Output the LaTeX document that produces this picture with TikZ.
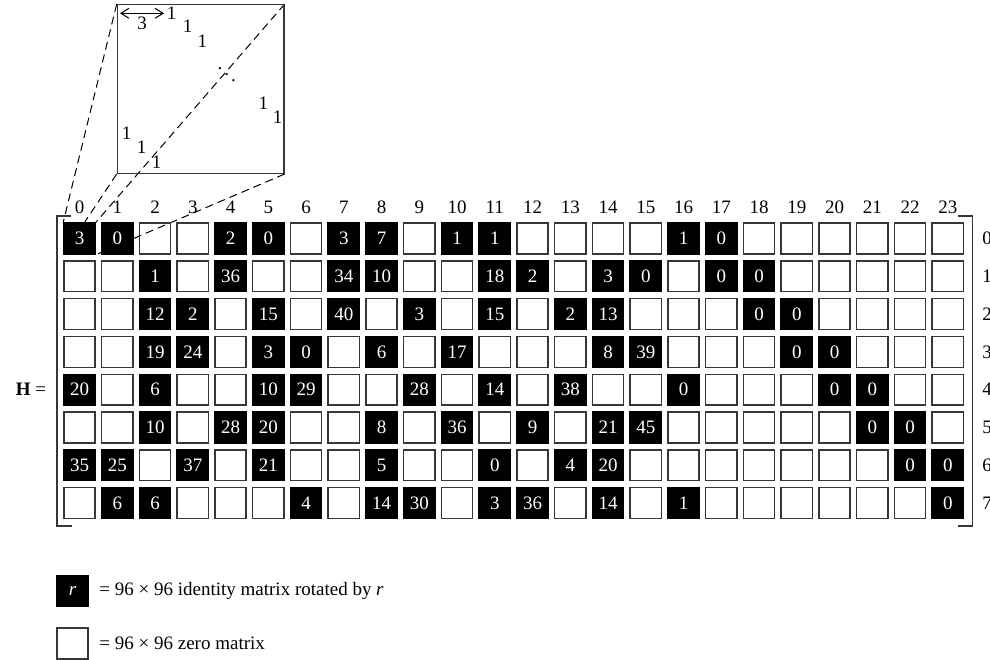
\documentclass[tikz,border=0pt]{standalone}
\usepackage{fontspec}
\setmainfont{Liberation Serif}
\usetikzlibrary{arrows.meta,backgrounds}
\definecolor{framegray}{RGB}{55,55,55}

\tikzset{
  zerocell/.style={draw=framegray, line width=0.7pt, minimum width=15.6pt, minimum height=15.4pt, inner sep=0pt},
  permcell/.style={zerocell, draw=black, fill=black, text=white},
  zoomline/.style={dash pattern=on 4pt off 2.5pt, line width=0.5pt},
  bracket/.style={draw=framegray, line width=0.7pt}
}

\begin{document}
\begin{tikzpicture}[x=0.5pt, y=-0.5pt, font=\fontsize{9.5}{11}\selectfont]

\useasboundingbox (0,0) rectangle (990,659);

% Zero blocks (8 x 24)
\foreach \r in {0,...,7} {
  \foreach \c in {0,...,23} {
    \node[zerocell] (z-\r-\c) at ({79.5+37.75*\c},{238.5+37.8*\r}) {};
  }
}

% Rotated identity blocks: row/column/shift
\foreach \r/\c/\s in {0/0/3, 0/1/0, 0/4/2, 0/5/0, 0/7/3, 0/8/7, 0/10/1, 0/11/1, 0/16/1, 0/17/0,
    1/2/1, 1/4/36, 1/7/34, 1/8/10, 1/11/18, 1/12/2, 1/14/3, 1/15/0, 1/17/0, 1/18/0,
    2/2/12, 2/3/2, 2/5/15, 2/7/40, 2/9/3, 2/11/15, 2/13/2, 2/14/13, 2/18/0, 2/19/0,
    3/2/19, 3/3/24, 3/5/3, 3/6/0, 3/8/6, 3/10/17, 3/14/8, 3/15/39, 3/19/0, 3/20/0,
    4/0/20, 4/2/6, 4/5/10, 4/6/29, 4/9/28, 4/11/14, 4/13/38, 4/16/0, 4/20/0, 4/21/0,
    5/2/10, 5/4/28, 5/5/20, 5/8/8, 5/10/36, 5/12/9, 5/14/21, 5/15/45, 5/21/0, 5/22/0,
    6/0/35, 6/1/25, 6/3/37, 6/5/21, 6/8/5, 6/11/0, 6/13/4, 6/14/20, 6/22/0, 6/23/0,
    7/1/6, 7/2/6, 7/6/4, 7/8/14, 7/9/30, 7/11/3, 7/12/36, 7/14/14, 7/16/1, 7/23/0} {
  \node[permcell] (p-\r-\c) at (z-\r-\c) {\s};
}

% Column and row indices
\foreach \c in {0,...,23} {
  \node (col-\c) at ({79.5+37.75*\c},207) {\c};
}
\foreach \r in {0,...,7} {
  \node (row-\r) at (987,{238.5+37.8*\r}) {\r};
}

% Brackets
\draw[bracket] (71,216) -- (57,216) -- (57,526) -- (72,526);
\draw[bracket] (958,216) -- (972.5,216) -- (972.5,526) -- (958,526);

% Matrix name
\node (hname) at (31,389.7) {\textbf{H} =};

% Zoomed block
\node[draw=framegray, line width=0.7pt, minimum width=83.3pt, minimum height=84.3pt, inner sep=0pt] (zoombox) at (200.7,89) {};
\begin{scope}[on background layer]
  \draw[zoomline] (zoombox.north west) -- (p-0-0.north west);
  \draw[zoomline] (zoombox.south west) -- (p-0-0.south west);
  \draw[zoomline] (zoombox.north east) -- (p-0-0.north east);
  \draw[zoomline] (zoombox.south east) -- (p-0-0.south east);
\end{scope}

% Shift inside the block
\coordinate (shiftl) at (120,13.3);
\coordinate (shiftr) at (164,13.3);
\draw[line width=0.5pt, {Straight Barb[length=4pt,width=5pt]}-{Straight Barb[length=4pt,width=5pt]}] (shiftl) -- (shiftr);
\node[inner sep=0pt] (shiftval) at (142,23.3) {3};

% Ones on the shifted diagonal
\foreach \n/\x/\y in {1/171.7/13.5, 2/187.7/26.7, 3/202.3/41, 4/263.3/103.3, 5/277.7/117.7,
    6/126.7/133, 7/141.7/147.3, 8/156.7/162.7} {
  \node[inner sep=0pt] (one-\n) at (\x,\y) {1};
}
\node[inner sep=0pt] (dots) at (226.7,68.7) {$\ddots$};

% Legend
\node[permcell] (keyperm) at (72.5,591) {\textit{r}};
\node[anchor=west, inner sep=0pt] (keypermtext) at (99,591) {= 96 × 96 identity matrix rotated by \textit{r}};
\node[zerocell] (keyzero) at (72.5,643.5) {};
\node[anchor=west, inner sep=0pt] (keyzerotext) at (99,643.5) {= 96 × 96 zero matrix};

\end{tikzpicture}
\end{document}
